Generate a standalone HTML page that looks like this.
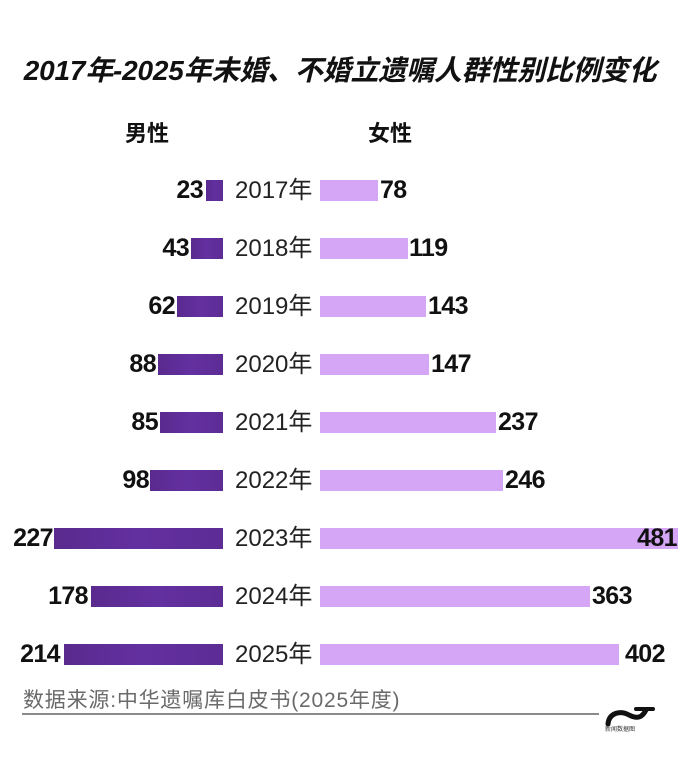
<!DOCTYPE html>
<html>
<head>
<meta charset="utf-8">
<style>
  html, body { margin:0; padding:0; }
  body { width:680px; height:784px; background:#ffffff; position:relative; overflow:hidden;
         font-family:"Liberation Sans","Noto Sans CJK SC",sans-serif; color:#111; }
  .abs { position:absolute; white-space:nowrap; }
  .title { left:0; width:680px; top:57px; text-align:center; font-size:28px; line-height:28px;
           font-weight:bold; font-style:italic; color:#111; letter-spacing:-0.2px; }
  .hdr { font-size:22px; line-height:22px; font-weight:bold; top:123px; color:#111; }
  .row { position:absolute; left:0; width:680px; height:21px; }
  .mbar { position:absolute; top:0; height:21px; background:linear-gradient(90deg,#5a2a8e,#6330a0 50%,#5d2c94); }
  .fbar { position:absolute; top:0; height:21px; left:320px; background:#d4a6f5; }
  .mval { position:absolute; top:0; height:21px; line-height:21px; font-size:25px; font-weight:bold; text-align:right; color:#111; letter-spacing:-0.6px; }
  .fval { position:absolute; top:0; height:21px; line-height:21px; font-size:25px; font-weight:bold; color:#111; letter-spacing:-0.6px; }
  .year { position:absolute; left:235px; top:0; height:21px; line-height:21px; font-size:24px; color:#222; }
  .foot { left:23px; top:690px; font-size:21px; line-height:22px; color:#6a6a6a; letter-spacing:0.8px; }
  .line { position:absolute; left:22px; top:713px; width:577px; height:2px; background:#8a8a8a; }
</style>
</head>
<body>
<div class="abs title">2017年-2025年未婚、不婚立遗嘱人群性别比例变化</div>
<div class="abs hdr" style="left:125px;">男性</div>
<div class="abs hdr" style="left:368px;">女性</div>

<!-- 2017 -->
<div class="row" style="top:180px;">
  <div class="mval" style="right:477px;">23</div>
  <div class="mbar" style="left:206px;width:17px;"></div>
  <div class="year">2017年</div>
  <div class="fbar" style="width:58px;"></div>
  <div class="fval" style="left:380px;">78</div>
</div>
<!-- 2018 -->
<div class="row" style="top:238px;">
  <div class="mval" style="right:491px;">43</div>
  <div class="mbar" style="left:191px;width:32px;"></div>
  <div class="year">2018年</div>
  <div class="fbar" style="width:88px;"></div>
  <div class="fval" style="left:409px;">119</div>
</div>
<!-- 2019 -->
<div class="row" style="top:296px;">
  <div class="mval" style="right:505px;">62</div>
  <div class="mbar" style="left:177px;width:46px;"></div>
  <div class="year">2019年</div>
  <div class="fbar" style="width:106px;"></div>
  <div class="fval" style="left:428px;">143</div>
</div>
<!-- 2020 -->
<div class="row" style="top:354px;">
  <div class="mval" style="right:524px;">88</div>
  <div class="mbar" style="left:158px;width:65px;"></div>
  <div class="year">2020年</div>
  <div class="fbar" style="width:109px;"></div>
  <div class="fval" style="left:431px;">147</div>
</div>
<!-- 2021 -->
<div class="row" style="top:412px;">
  <div class="mval" style="right:522px;">85</div>
  <div class="mbar" style="left:160px;width:63px;"></div>
  <div class="year">2021年</div>
  <div class="fbar" style="width:176px;"></div>
  <div class="fval" style="left:498px;">237</div>
</div>
<!-- 2022 -->
<div class="row" style="top:470px;">
  <div class="mval" style="right:531px;">98</div>
  <div class="mbar" style="left:150px;width:73px;"></div>
  <div class="year">2022年</div>
  <div class="fbar" style="width:183px;"></div>
  <div class="fval" style="left:505px;">246</div>
</div>
<!-- 2023 -->
<div class="row" style="top:528px;">
  <div class="mval" style="right:627px;">227</div>
  <div class="mbar" style="left:54px;width:169px;"></div>
  <div class="year">2023年</div>
  <div class="fbar" style="width:358px;"></div>
  <div class="fval" style="right:3px;">481</div>
</div>
<!-- 2024 -->
<div class="row" style="top:586px;">
  <div class="mval" style="right:592px;">178</div>
  <div class="mbar" style="left:91px;width:132px;"></div>
  <div class="year">2024年</div>
  <div class="fbar" style="width:270px;"></div>
  <div class="fval" style="left:592px;">363</div>
</div>
<!-- 2025 -->
<div class="row" style="top:644px;">
  <div class="mval" style="right:620px;">214</div>
  <div class="mbar" style="left:64px;width:159px;"></div>
  <div class="year">2025年</div>
  <div class="fbar" style="width:299px;"></div>
  <div class="fval" style="left:625px;">402</div>
</div>

<div class="abs foot">数据来源:中华遗嘱库白皮书(2025年度)</div>
<div class="line"></div>

<svg class="abs" style="left:602px;top:703px;" width="54" height="26" viewBox="0 0 54 26">
  <path d="M6 21 C7 10, 18 7, 27 12 C35 16, 40 15, 44 7" fill="none" stroke="#111" stroke-width="5" stroke-linecap="round"/>
  <path d="M34 6 L51 6" stroke="#111" stroke-width="4" stroke-linecap="round"/>
</svg>
<div class="abs" style="left:605px;top:727px;font-size:6px;line-height:7px;color:#333;letter-spacing:0;">新闻数据图</div>
</body>
</html>
